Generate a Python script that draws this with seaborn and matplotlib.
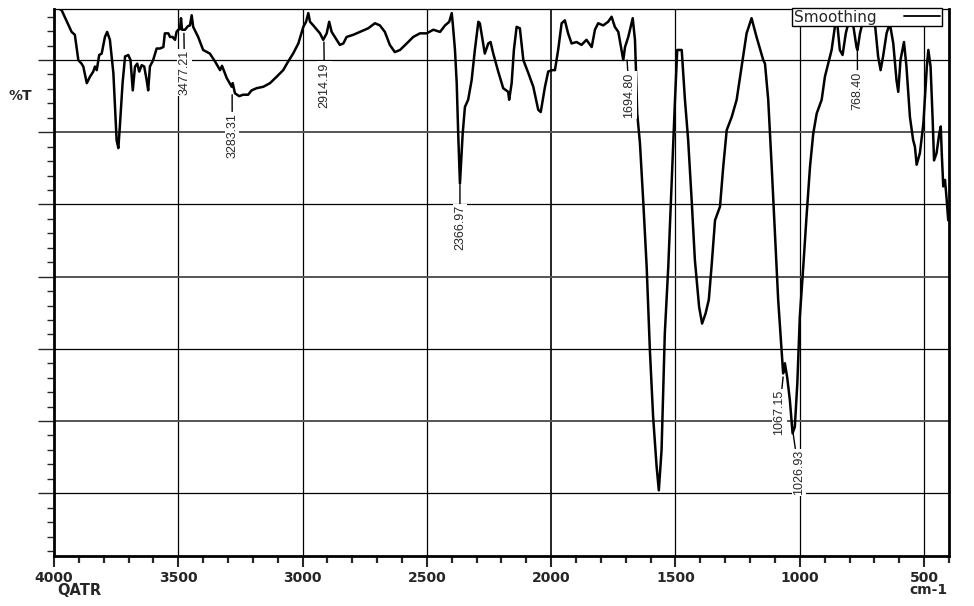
import pandas as pd
import matplotlib
matplotlib.use('Agg')
import matplotlib.pyplot as plt
from matplotlib.ticker import MultipleLocator
import seaborn as sns

# Spectrum (cm-1, %T on an arbitrary 10-per-gridline scale)
wavenumber = [
    4000, 3969, 3929, 3916, 3902, 3889, 3882, 3868, 3855, 3842,
    3835, 3828, 3818, 3808, 3795, 3786, 3775, 3761, 3748, 3741,
    3735, 3724, 3714, 3701, 3692, 3683, 3674, 3665, 3657, 3647,
    3637, 3627, 3621, 3614, 3601, 3587, 3574, 3560, 3554, 3540,
    3533, 3523, 3513, 3507, 3500, 3493, 3489, 3485, 3473, 3461,
    3453, 3446, 3440, 3420, 3400, 3373, 3352, 3332, 3324, 3305,
    3285, 3281, 3272, 3255, 3239, 3219, 3205, 3185, 3158, 3131,
    3104, 3078, 3058, 3038, 3017, 2997, 2986, 2977, 2970, 2957,
    2930, 2917, 2903, 2893, 2883, 2863, 2850, 2836, 2823, 2796,
    2769, 2736, 2709, 2689, 2669, 2649, 2629, 2608, 2581, 2555,
    2528, 2501, 2474, 2447, 2427, 2410, 2400, 2396, 2387, 2380,
    2374, 2367, 2356, 2347, 2334, 2320, 2307, 2293, 2287, 2276,
    2267, 2253, 2244, 2233, 2213, 2193, 2173, 2169, 2159, 2150,
    2139, 2126, 2112, 2092, 2072, 2052, 2042, 2025, 2012, 1998,
    1985, 1972, 1958, 1945, 1932, 1918, 1898, 1878, 1858, 1837,
    1824, 1811, 1791, 1771, 1757, 1744, 1730, 1717, 1710, 1703,
    1690, 1672, 1663, 1659, 1654, 1643, 1630, 1616, 1603, 1590,
    1576, 1567, 1556, 1543, 1529, 1516, 1502, 1493, 1475, 1462,
    1449, 1435, 1422, 1405, 1393, 1379, 1366, 1355, 1341, 1321,
    1308, 1294, 1274, 1254, 1234, 1214, 1194, 1174, 1147, 1140,
    1127, 1113, 1100, 1087, 1073, 1067, 1060, 1051, 1040, 1029,
    1020, 1010, 1000, 986, 973, 959, 946, 932, 912, 899,
    886, 872, 859, 850, 839, 828, 815, 805, 785, 772,
    768, 758, 748, 725, 698, 685, 675, 665, 651, 638,
    624, 611, 604, 595, 581, 571, 557, 544, 537, 530,
    517, 503, 489, 483, 474, 466, 460, 450, 439, 433,
    429, 423, 416, 409, 403,
]
transmittance = [
    77.5, 76.9, 73.9, 73.5, 70.0, 69.5, 69.1, 66.8, 67.7, 68.4,
    69.1, 68.6, 70.7, 70.9, 73.2, 73.9, 72.8, 68.2, 58.9, 57.8,
    60.8, 66.8, 70.5, 70.7, 70.0, 65.8, 69.1, 69.5, 68.4, 69.3,
    69.1, 67.2, 65.8, 69.1, 70.0, 71.6, 71.6, 71.8, 73.7, 73.7,
    73.2, 73.2, 72.8, 73.9, 74.2, 74.3, 75.8, 74.2, 74.2, 74.7,
    74.8, 76.2, 74.6, 73.2, 71.4, 70.9, 69.8, 68.6, 69.2, 67.5,
    66.3, 66.8, 65.4, 65.0, 65.2, 65.2, 65.8, 66.1, 66.3, 66.8,
    67.7, 68.6, 69.8, 70.9, 72.3, 74.6, 75.3, 76.5, 75.3, 74.8,
    73.7, 72.8, 73.7, 75.3, 73.9, 72.8, 72.1, 72.3, 73.2, 73.5,
    73.9, 74.4, 75.1, 74.8, 73.9, 72.1, 71.1, 71.4, 72.3, 73.2,
    73.7, 73.7, 74.2, 73.9, 74.8, 75.3, 76.5, 75.1, 71.4, 66.8,
    59.8, 52.9, 59.8, 63.5, 64.5, 67.2, 71.4, 75.3, 75.1, 72.8,
    70.9, 72.3, 72.5, 70.9, 68.4, 66.1, 65.6, 64.5, 66.8, 71.4,
    74.6, 74.4, 70.0, 68.2, 66.3, 63.1, 62.8, 66.3, 68.4, 68.6,
    68.6, 71.4, 75.1, 75.5, 73.7, 72.3, 72.5, 72.1, 72.8, 71.8,
    74.2, 75.1, 74.8, 75.3, 76.0, 74.6, 73.9, 71.4, 70.0, 71.8,
    73.2, 75.8, 72.8, 68.6, 62.6, 58.5, 50.6, 41.4, 29.8, 20.6,
    13.7, 10.4, 16.0, 32.1, 41.4, 52.5, 64.5, 71.4, 71.4, 64.5,
    58.9, 50.6, 42.3, 35.8, 33.5, 34.9, 36.8, 41.4, 47.8, 49.7,
    55.2, 60.3, 62.1, 64.5, 69.1, 73.7, 75.8, 73.2, 70.0, 69.5,
    64.5, 55.2, 46.0, 36.8, 29.8, 26.6, 28.0, 26.1, 22.9, 18.3,
    19.2, 25.2, 34.4, 41.4, 48.3, 55.2, 59.8, 62.6, 64.5, 67.7,
    69.5, 71.4, 74.6, 75.3, 71.4, 70.7, 73.7, 75.1, 74.8, 71.8,
    71.4, 73.7, 75.1, 76.2, 75.1, 70.5, 68.6, 70.5, 73.7, 75.1,
    72.3, 67.2, 65.6, 70.0, 72.5, 69.1, 62.1, 58.9, 58.0, 55.5,
    57.1, 61.2, 69.1, 71.4, 69.1, 62.1, 56.1, 57.1, 59.8, 60.8,
    57.1, 52.5, 53.4, 50.6, 47.8,
]

# Peak picks: label, where the leader starts on the curve, where the label text begins
peak_labels = ['3477.21', '3283.31', '2914.19', '2366.97', '1694.80', '768.40', '1067.15', '1026.93']
peak_wn = [3477.21, 3283.31, 2914.19, 2366.97, 1694.80, 768.40, 1067.15, 1026.93]
peak_T = [73.7, 65.2, 72.5, 52.7, 70.0, 71.4, 26.1, 18.3]
label_wn = [3475, 3283, 2912, 2367, 1686, 768, 1082, 1004]
label_T = [71.4, 62.7, 69.7, 49.9, 68.3, 68.4, 24.3, 16.0]

x_ticks = [4000, 3500, 3000, 2500, 2000, 1500, 1000, 500]
y_grid = [10, 20, 30, 40, 50, 60, 70]

sns.set_style('white')
plt.rcParams['font.family'] = ['DejaVu Sans']

df = pd.DataFrame({'wavenumber': wavenumber, 'transmittance': transmittance})

fig = plt.figure(figsize=(9.74, 6.06), dpi=100)
ax = fig.add_axes([0.0554, 0.0825, 0.9189, 0.9025])

sns.lineplot(data=df, x='wavenumber', y='transmittance', sort=False, estimator=None,
             color='black', linewidth=1.8, label='Smoothing', ax=ax)

ax.set_xlim(4000, 400)
ax.set_ylim(1.3, 77.06)
ax.set_xlabel('')
ax.set_ylabel('')

# grid: vertical every 500, horizontal every 10 (alternating darkness as in the scan)
ax.set_axisbelow(True)
for xv in x_ticks[1:]:
    ax.axvline(xv, color='black', lw=1.2 if xv == 2000 else 0.9, zorder=0)
for yv in y_grid:
    grey = yv in (20, 40, 60)
    ax.axhline(yv, color='#555555' if grey else 'black', lw=1.4 if grey else 0.9, zorder=0)

ax.set_xticks(x_ticks)
ax.set_xticklabels([str(t) for t in x_ticks], fontsize=10, fontweight='bold')
ax.xaxis.set_minor_locator(MultipleLocator(100))
ax.set_yticks(y_grid)
ax.set_yticklabels([])
ax.yaxis.set_minor_locator(MultipleLocator(2))
ax.tick_params(axis='x', which='major', direction='out', length=8, width=1.5, pad=2.5, bottom=True)
ax.tick_params(axis='x', which='minor', direction='out', length=5, width=1.6, bottom=True)
ax.tick_params(axis='y', which='major', direction='out', length=11.5, width=1.0, left=True)
ax.tick_params(axis='y', which='minor', direction='out', length=5, width=1.0, left=True)

for side, lw in [('left', 2.0), ('bottom', 2.0), ('right', 2.0), ('top', 0.9)]:
    ax.spines[side].set_visible(True)
    ax.spines[side].set_color('black')
    ax.spines[side].set_linewidth(lw)

# peak annotations
for lab, wx, wy, tx, ty in zip(peak_labels, peak_wn, peak_T, label_wn, label_T):
    ax.annotate(lab, xy=(wx, wy), xytext=(tx, ty), rotation=90, ha='center', va='top',
                fontsize=9, family=['Liberation Sans', 'DejaVu Sans'],
                bbox=dict(boxstyle='square,pad=0.1', fc='white', ec='none'),
                arrowprops=dict(arrowstyle='-', color='black', lw=1.0, shrinkA=0, shrinkB=0),
                zorder=4)

leg = ax.legend(loc='upper right', bbox_to_anchor=(0.9905, 0.999), markerfirst=False,
                frameon=True, fancybox=False, edgecolor='black', framealpha=1,
                fontsize=11, borderpad=0.0, borderaxespad=0, handlelength=2.4,
                handletextpad=1.8)
leg.get_frame().set_linewidth(1.0)
leg.get_frame().set_boxstyle('square', pad=0.12)
for line in leg.get_lines():
    line.set_linewidth(1.3)

fig.text(0.0205, 0.8416, '%T', fontsize=10, fontweight='bold', ha='center', va='center')
fig.text(0.0585, 0.0264, 'QATR', fontsize=10.5, fontweight='bold', ha='left', va='center')
fig.text(0.973, 0.0264, 'cm-1', fontsize=10, fontweight='bold', ha='right', va='center')

fig.savefig('out.png', dpi=100, facecolor='white')
